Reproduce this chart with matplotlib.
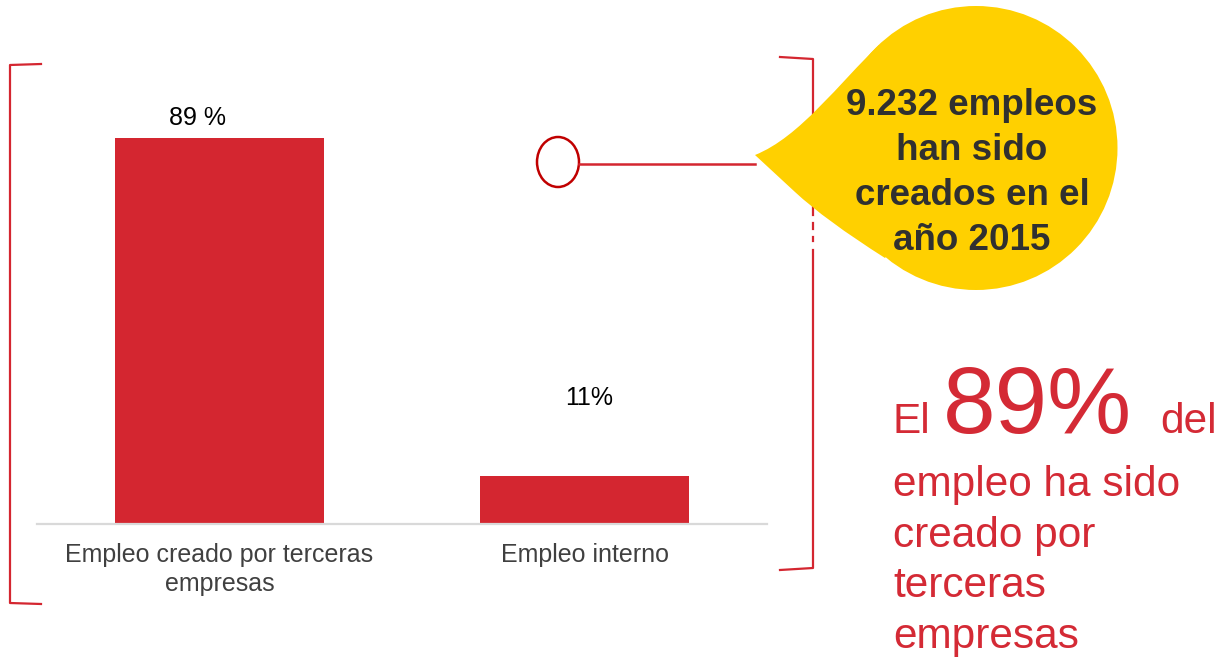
import numpy as np
import matplotlib
matplotlib.use("Agg")
import matplotlib.pyplot as plt
from matplotlib.patches import Ellipse, PathPatch
from matplotlib.path import Path

plt.rcParams['font.family'] = ['Liberation Sans', 'DejaVu Sans']

# datos
categorias = ["Empleo creado por terceras\nempresas", "Empleo interno"]
valores = [89, 11]
etiquetas = ["89 %", "11%"]
texto_burbuja = ["9.232 empleos", "han sido", "creados en el", "año 2015"]
texto_lateral = ["empleo ha sido", "creado por", "terceras", "empresas"]

ROJO = "#d42630"
ROJO_TXT = "#d42a35"
AMARILLO = "#ffd000"

W, H = 1222, 658
fig = plt.figure(figsize=(W / 100, H / 100), dpi=100)
fig.patch.set_facecolor("white")

# grafico de barras
ax = fig.add_axes([37 / W, (H - 524) / H, 730 / W, (524 - 60) / H])
x = np.arange(len(categorias))
bars = ax.bar(x, valores, width=0.57, color=ROJO, zorder=2)
ax.set_xlim(-0.5, 1.5)
ax.set_ylim(0, 107.0)
for s in ["top", "right", "left"]:
    ax.spines[s].set_visible(False)
ax.spines["bottom"].set_color("#d9d9d9")
ax.spines["bottom"].set_linewidth(1.6)
ax.set_yticks([])
ax.set_xticks(x)
ax.set_xticklabels(categorias, fontsize=18, color="#404040", linespacing=1.25)
ax.tick_params(axis="x", length=0, pad=14)

offsets = [(-16, 9.5), (3, 51)]
for b, lab, off in zip(bars, etiquetas, offsets):
    ax.annotate(lab, (b.get_x() + b.get_width() / 2, b.get_height()),
                xytext=off, textcoords="offset points",
                ha="center", va="baseline", fontsize=18, color="black")

# capa de anotaciones en pixeles
ov = fig.add_axes([0, 0, 1, 1])
ov.set_xlim(0, W)
ov.set_ylim(H, 0)
ov.axis("off")
ov.patch.set_alpha(0)

lw = 1.6
# corchete izquierdo
ov.plot([41, 10, 10, 41], [64, 65, 603, 604], color=ROJO, lw=lw, solid_joinstyle="round")
# corchete derecho
ov.plot([780, 813, 813], [57, 59, 215], color=ROJO, lw=lw)
ov.plot([813, 813], [223, 229], color=ROJO, lw=lw)
ov.plot([813, 813], [237, 241], color=ROJO, lw=lw)
ov.plot([813, 813, 780], [250, 568, 570], color=ROJO, lw=lw)

# circulo y linea
ov.add_patch(Ellipse((558, 162), 42, 50, fill=False, edgecolor="#c00000", lw=1.8))
ov.plot([579, 755], [164, 164], color=ROJO, lw=1.8)

# burbuja
ov.add_patch(Ellipse((976, 148), 283, 284, facecolor=AMARILLO, edgecolor="none", zorder=3))
cola = Path([(879, 45), (839, 83), (800, 137), (755, 155),
             (795, 192), (825, 220), (885, 258), (976, 148), (879, 45)],
            [Path.MOVETO, Path.CURVE4, Path.CURVE4, Path.CURVE4,
             Path.LINETO, Path.CURVE3, Path.CURVE3, Path.LINETO, Path.CLOSEPOLY])
ov.add_patch(PathPatch(cola, facecolor=AMARILLO, edgecolor="none", zorder=3))
for i, t in enumerate(texto_burbuja):
    ov.text(972, 115 + 45 * i, t, ha="center", va="baseline", fontsize=26.5,
            fontweight="bold", color="#303030", zorder=4)

# texto lateral
ov.text(893, 433, "El", ha="left", va="baseline", fontsize=30.5, color=ROJO_TXT)
ov.text(943, 433, "89%", ha="left", va="baseline", fontsize=68, color=ROJO_TXT)
ov.text(1160, 433, "del", ha="left", va="baseline", fontsize=30.5, color=ROJO_TXT)
for i, t in enumerate(texto_lateral):
    ov.text(893, 496 + 50.7 * i, t, ha="left", va="baseline", fontsize=30.5, color=ROJO_TXT)

fig.savefig("out.png", dpi=100)
